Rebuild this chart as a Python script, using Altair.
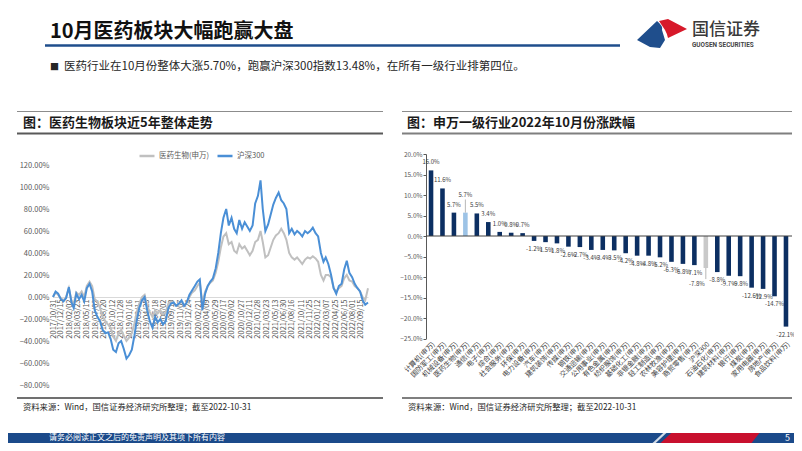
import altair as alt
import pandas as pd

FONT = "Noto Sans CJK SC"
W, H = 786, 435

# ---------------- texts ----------------
slide_title = "10月医药板块大幅跑赢大盘"
bullet_text = "医药行业在10月份整体大涨5.70%，跑赢沪深300指数13.48%，在所有一级行业排第四位。"
left_header = "图：医药生物板块近5年整体走势"
right_header = "图：申万一级行业2022年10月份涨跌幅"
source_text = "资料来源：Wind，国信证券经济研究所整理；截至2022-10-31"
footer_text = "请务必阅读正文之后的免责声明及其项下所有内容"
page_no = "5"
logo_cn = "国信证券"
logo_en = "GUOSEN SECURITIES"

# ---------------- left chart data (cumulative change, %) ----------------
series_names = ["医药生物(申万)", "沪深300"]
pharma_vals = [0, 4, 2, -1, -3, 0, 8, -3, -6, 4, 2, 5, 0, 10, 14, 10, -2, -4, -10, -18,
               -22, -25, -28, -36, -40, -33, -30, -35, -40, -37,
               -33, -24, -14, -6, 0, 2, -8, -14, -18, -12,
               -15, -12, -16, -14, -6, -4, -5, -8, -7, -4,
               -8, -5, 0, 4, 6, 10, 13, -5, 5, 10,
               13, 15, 22, 32, 45, 55, 58, 48, 50, 42,
               40, 48, 44, 46, 42, 38, 42, 50, 52, 60,
               50, 36, 38, 45, 52, 56, 58, 62, 58, 52,
               40, 36, 34, 36, 33, 30, 34, 36, 35, 37,
               35, 32, 20, 15, 20, 20, 18, 8, 5, 8,
               10, 17, 20, 15, 14, 10, 8, 5, 0, -3,
               8]
hs300_vals = [0, 5, 3, -2, -4, -1, 9, -5, -10, 3, -2, 2, -4, 8, 12, 5, -12, -18, -22, -30,
              -33, -32, -38, -48, -50, -42, -40, -47, -56, -53,
              -48, -35, -22, -10, -3, 0, -12, -22, -28, -18,
              -23, -20, -25, -22, -10, -6, -5, -8, -6, -3,
              -8, -5, 2, 6, 10, 14, 16, -12, 3, 10,
              14, 17, 26, 40, 58, 72, 80, 65, 72, 62,
              58, 70, 62, 68, 64, 60, 65, 85, 92, 106,
              80, 60, 66, 75, 84, 90, 95, 88, 85, 80,
              58, 62, 57, 60, 58, 55, 60, 58, 60, 63,
              58, 55, 40, 32, 36, 30, 20, 8, 3, 10,
              12, 25, 33, 22, 18, 12, 8, 5, -3, -7,
              -5]
tick_dates = ["2017/10/31", "2017/12/15", "2018/02/02", "2018/03/23", "2018/05/11", "2018/07/02",
              "2018/08/20", "2018/10/12", "2018/11/28", "2019/01/16", "2019/03/11", "2019/04/25",
              "2019/06/18", "2019/08/02", "2019/09/19", "2019/11/07", "2019/12/24", "2020/02/21",
              "2020/04/09", "2020/05/29", "2020/07/17", "2020/09/02", "2020/10/27", "2020/12/11",
              "2021/01/28", "2021/03/23", "2021/05/13", "2021/06/30", "2021/08/16", "2021/10/11",
              "2021/11/25", "2022/01/12", "2022/03/07", "2022/04/25", "2022/06/15", "2022/08/01",
              "2022/09/15"]
y_left_ticks = [-80, -60, -40, -20, 0, 20, 40, 60, 80, 100, 120]

# ---------------- right chart data (Oct 2022 change, %) ----------------
industries = ["计算机(申万)", "国防军工(申万)", "机械设备(申万)", "医药生物(申万)", "通信(申万)",
              "电子(申万)", "综合(申万)", "社会服务(申万)", "环保(申万)", "电力设备(申万)",
              "汽车(申万)", "建筑装饰(申万)", "传媒(申万)", "钢铁(申万)", "交通运输(申万)",
              "公用事业(申万)", "有色金属(申万)", "纺织服饰(申万)", "基础化工(申万)", "非银金融(申万)",
              "轻工制造(申万)", "农林牧渔(申万)", "美容护理(申万)", "商贸零售(申万)", "沪深300",
              "石油石化(申万)", "建筑材料(申万)", "银行(申万)", "煤炭(申万)", "家用电器(申万)",
              "房地产(申万)", "食品饮料(申万)"]
changes = [16.0, 11.6, 5.7, 5.7, 5.5, 3.4, 1.0, 0.8, 0.7, -1.2,
           -1.5, -1.8, -2.6, -2.7, -3.4, -3.4, -3.5, -4.2, -4.8, -4.8,
           -5.2, -6.3, -6.8, -7.1, -7.8, -8.8, -9.7, -9.8, -12.6, -12.9,
           -14.7, -22.1]
y_right_ticks = [-25, -20, -15, -10, -5, 0, 5, 10, 15, 20]
highlight = {"医药生物(申万)": "#9dc3e6", "沪深300": "#c9c9c9"}
bar_color = "#0c2f62"

# ---------------- build frames ----------------
def half_month_dates(n):
    out = []
    for k in range(n):
        ms = pd.Timestamp("2017-11-01") + pd.DateOffset(months=k // 2)
        d = ms - pd.Timedelta(days=1) if k % 2 == 0 else ms + pd.Timedelta(days=14)
        out.append(d.strftime("%Y-%m-%dT00:00:00"))
    return out

dates = half_month_dates(len(hs300_vals))
left_df = pd.concat([
    pd.DataFrame({"date": dates, "series": series_names[0], "value": pharma_vals}),
    pd.DataFrame({"date": dates, "series": series_names[1], "value": hs300_vals}),
], ignore_index=True)

def dt(s):
    y, m, d = s.split("/")
    return alt.DateTime(year=int(y), month=int(m), date=int(d))

right_df = pd.DataFrame({"ind": industries, "chg": changes})
right_df["col"] = [highlight.get(i, bar_color) for i in industries]
right_df["lab"] = [f"{v:.1f}%" for v in changes]
right_df["special"] = [1 if i in highlight else 0 for i in industries]
# label / leader positions for the two highlighted bars (in data units)
right_df["ly"] = [v + 4.3 if v > 0 else v - 3.9 for v in changes]
right_df["ry"] = [v + 3.2 if v > 0 else v - 2.7 for v in changes]

one = pd.DataFrame({"k": [0]})

# ---------------- decoration helpers ----------------
def txt(s, x, y, size, color="#262626", weight="normal", align="left", font=FONT):
    return alt.Chart(one).mark_text(text=s, fontSize=size, color=color, fontWeight=weight,
                                    align=align, baseline="middle", font=font).encode(
        x=alt.value(x), y=alt.value(y))

def hrule(x1, x2, y, color, width):
    return alt.Chart(one).mark_rule(color=color, strokeWidth=width).encode(
        x=alt.value(x1), x2=alt.value(x2), y=alt.value(y))

def rect(x1, x2, y1, y2, color):
    return alt.Chart(one).mark_rect(color=color).encode(
        x=alt.value(x1), x2=alt.value(x2), y=alt.value(y1), y2=alt.value(y2))

def shape(path, cx, cy, size, color, opacity=1.0):
    return alt.Chart(one).mark_point(shape=path, filled=True, color=color, size=size,
                                     opacity=opacity, strokeWidth=0).encode(
        x=alt.value(cx), y=alt.value(cy))

blue_logo = "M -1 0.26 L -0.2 -0.5 Q 0.05 -0.3 0 -0.14 L 0.12 0.26 L -0.08 0.58 L -0.48 0.54 Z"
red_logo = "M -0.12 -0.5 L 0.24 -0.58 L 1 -0.18 L 0.24 0.18 Q 0.2 0 0.12 -0.14 Z"
red_band = "M -0.85 0.094 L -0.65 -0.094 L 1 -0.094 L 0.85 0.094 Z"
white_band = "M -1 0.094 L -0.8 -0.094 L -0.74 -0.094 L -0.94 0.094 Z"

deco = [
    txt(slide_title, 42, 23.5, 20, color="#111111", weight="bold"),
    hrule(37, 612, 37.5, "#1f4e8c", 2.5),
    shape(blue_logo, 654, 25.5, 2500, "#1f4e8c"),
    shape(red_logo, 654, 25.5, 2500, "#d7192a"),
    txt(logo_cn, 684, 22, 17, color="#3a3a3a", weight=500),
    txt(logo_en, 684, 36.5, 6.4, color="#444444", weight="bold", font="Roboto"),
    txt("■", 42, 59, 9, color="#262626"),
    txt(bullet_text, 56, 59, 11.5, color="#262626"),
    hrule(9, 375, 103.5, "#8c8c8c", 1),
    hrule(9, 375, 125.5, "#595959", 2),
    txt(left_header, 15, 114.5, 13, color="#1a1a1a", weight="bold"),
    hrule(394, 784, 103.5, "#8c8c8c", 1),
    hrule(394, 784, 125.5, "#7f7f7f", 2),
    txt(right_header, 399, 114.5, 13, color="#1a1a1a", weight="bold"),
    hrule(9, 375, 390, "#404040", 1.5),
    hrule(394, 784, 390, "#7f7f7f", 2),
    txt(source_text, 15, 400, 8.3, color="#262626"),
    txt(source_text, 400, 400, 8.3, color="#262626"),
    rect(0, W, 425, 435, "#1b4a8a"),
    shape(white_band, 698, 430, 11449, "#ffffff", 0.8),
    shape(red_band, 698, 430, 11449, "#c8102e"),
    txt(footer_text, 41, 430, 8, color="#ffffff"),
    txt(page_no, 782, 430, 9, color="#ffffff", align="right"),
]

# ---------------- left chart ----------------
xl = alt.Scale(domain=[dt("2017/10/31"), dt("2022/10/31")], range=[45, 360], nice=False)
yl = alt.Scale(domain=[-80, 120], range=[377, 157], nice=False, zero=False)

left_chart = alt.Chart(left_df).mark_line(strokeWidth=2).encode(
    x=alt.X("date:T", scale=xl, title=None,
            axis=alt.Axis(orient="bottom", offset=289 - H, values=[dt(s) for s in tick_dates],
                          format="%Y/%m/%d", labelAngle=-90, domain=True, domainColor="#d9d9d9",
                          domainWidth=1, ticks=False, tickSize=0, labelPadding=2,
                          labelFontSize=7.5, labelColor="#595959", grid=False,
                          labelOverlap=False, labelFlush=False, labelBound=False)),
    y=alt.Y("value:Q", scale=yl, title=None,
            axis=alt.Axis(orient="left", offset=-43, values=y_left_ticks,
                          labelExpr="format(datum.value, '.2f') + '%'", domain=False,
                          ticks=False, tickSize=0, labelPadding=2, grid=False,
                          labelFontSize=7.5, labelColor="#595959")),
    color=alt.Color("series:N",
                    scale=alt.Scale(domain=series_names, range=["#c0c0c0", "#4a8fd6"]),
                    legend=alt.Legend(orient="none", legendX=130, legendY=139,
                                      direction="horizontal", title=None, symbolType="stroke",
                                      symbolSize=225, symbolStrokeWidth=2.5, labelFontSize=7.5,
                                      labelColor="#595959", columnPadding=2, labelOffset=3,
                                      padding=0)),
)

# ---------------- right chart (single view, one set of axes) ----------------
xr = alt.Scale(domain=industries, range=[417.3, 783.7], paddingInner=0.6, paddingOuter=0.3)
yr = alt.Scale(domain=[-25, 20], range=[330.5, 146], nice=False, zero=False)

x_axis = alt.Axis(orient="bottom", offset=330 - H, labelAngle=-45, domain=False,
                  ticks=False, tickSize=0, labelPadding=2, labelFontSize=7,
                  labelColor="#404040", grid=False, labelOverlap=False,
                  labelBound=False, labelLimit=200)
y_axis = alt.Axis(orient="left", offset=-418, values=y_right_ticks,
                  labelExpr="format(datum.value, '.1f') + '%'", domain=True,
                  domainColor="#595959", ticks=True, tickSize=3, tickColor="#595959",
                  labelPadding=1, grid=False, labelFontSize=6.5, labelColor="#595959")

base = alt.Chart(right_df).encode(
    x=alt.X("ind:N", scale=xr, sort=None, title=None, axis=x_axis),
    y=alt.Y("chg:Q", scale=yr, title=None, axis=y_axis),
)

bars = base.mark_bar().encode(y2=alt.datum(0), color=alt.Color("col:N", scale=None))

zero_rule = base.transform_filter("datum.ind == '计算机(申万)'").mark_rule(
    color="#404040", strokeWidth=1).encode(
    x=alt.value(418), x2=alt.value(784), y=alt.Y(datum=0, scale=yr, title=None, axis=y_axis))

pos_lab = base.transform_filter("datum.chg > 0 && datum.special == 0").mark_text(
    baseline="bottom", dy=-5, fontSize=6, color="#404040", font=FONT).encode(text="lab:N")
neg_lab = base.transform_filter("datum.chg < 0 && datum.special == 0").mark_text(
    baseline="top", dy=5, fontSize=6, color="#404040", font=FONT).encode(text="lab:N")

sp_rule = base.transform_filter("datum.special == 1").mark_rule(
    color="#a6a6a6", strokeWidth=0.8).encode(y2="ry:Q")
med_lab = base.transform_filter("datum.special == 1 && datum.chg > 0").mark_text(
    baseline="middle", fontSize=6, color="#404040", font=FONT).encode(
    y=alt.Y("ly:Q", scale=yr, title=None, axis=y_axis), text="lab:N")
hs_lab = base.transform_filter("datum.special == 1 && datum.chg < 0").mark_text(
    baseline="middle", align="right", dx=-1, fontSize=6, color="#404040", font=FONT).encode(
    y=alt.Y("ly:Q", scale=yr, title=None, axis=y_axis), text="lab:N")

right_chart = alt.layer(bars, zero_rule, pos_lab, neg_lab, sp_rule, med_lab, hs_lab)

chart = alt.layer(*deco, left_chart, right_chart).resolve_scale(
    x="independent", y="independent", color="independent"
).properties(
    width=W, height=H, autosize=alt.AutoSizeParams(type="none"), padding=0
).configure_view(strokeWidth=0).configure_axis(labelFont=FONT).configure_legend(labelFont=FONT)

chart.save("out.html", embed_options={"renderer": "svg", "actions": False})
